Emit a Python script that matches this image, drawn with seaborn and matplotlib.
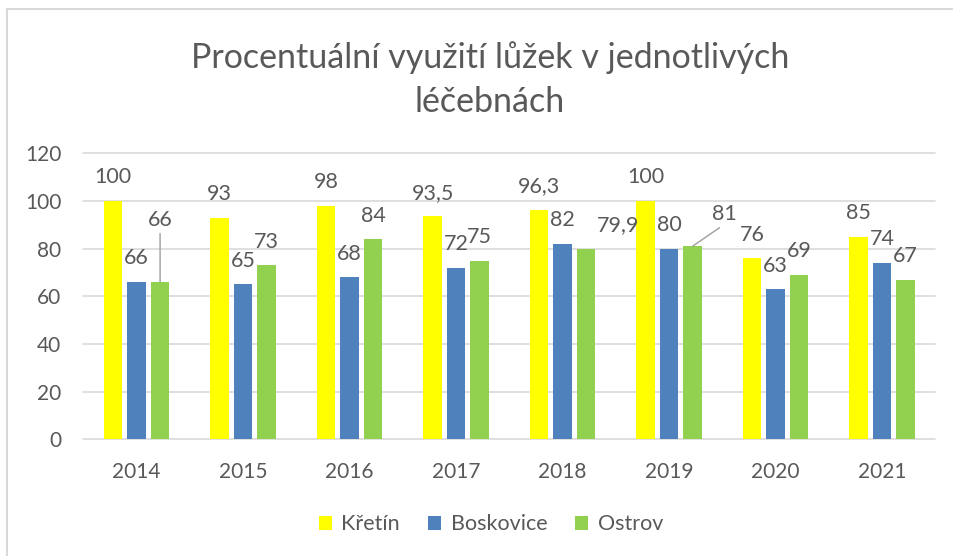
import matplotlib
matplotlib.use("Agg")
import matplotlib.pyplot as plt
import seaborn as sns
import pandas as pd
from matplotlib.lines import Line2D

# ---------------- data ----------------
years = ["2014", "2015", "2016", "2017", "2018", "2019", "2020", "2021"]
sites = ["Křetín", "Boskovice", "Ostrov"]
kretin = [100, 93, 98, 93.5, 96.3, 100, 76, 85]
boskovice = [66, 65, 68, 72, 82, 80, 63, 74]
ostrov = [66, 73, 84, 75, 79.9, 81, 69, 67]
y_ticks = [0, 20, 40, 60, 80, 100, 120]
title_lines = ["Procentuální využití lůžek v jednotlivých", "léčebnách"]

# ---------------- style ----------------
colors = {"Křetín": "#FFFF00", "Boskovice": "#4F81BD", "Ostrov": "#92D050"}
TEXT = "#595959"
GRID = "#D9D9D9"
LEADER = "#A6A6A6"
# label nudges in points: (dx, extra dy, leader line)
label_nudge = {
    ("2014", "Ostrov"): (0, 27.5, True),
    ("2018", "Ostrov"): (23, 0, False),
    ("2019", "Ostrov"): (22.8, 6, True),
}

sns.set_theme(style="white")
plt.rcParams["font.family"] = ["Lato", "DejaVu Sans"]

values = {"Křetín": kretin, "Boskovice": boskovice, "Ostrov": ostrov}
df = pd.DataFrame({
    "year": years * 3,
    "site": [s for s in sites for _ in years],
    "value": kretin + boskovice + ostrov,
})

W, H = 954, 556
fig = plt.figure(figsize=(W / 100, H / 100), dpi=100)
fig.patch.set_facecolor("white")
ax = fig.add_axes([83.4 / W, 1 - 439.3 / H, 852 / W, 286 / H])
ax.set_facecolor("white")

sns.barplot(data=df, x="year", y="value", hue="site", order=years,
            hue_order=sites, palette=colors, width=0.66, gap=0.21,
            saturation=1, errorbar=None, ax=ax, zorder=3, linewidth=0)

ax.set_xlim(-0.5, len(years) - 0.5)
ax.set_ylim(0, 120)
ax.set_yticks(y_ticks)
ax.grid(False)
for v in y_ticks:
    ax.axhline(v, color=GRID, lw=1.2, clip_on=False, zorder=1)
for sp in ax.spines.values():
    sp.set_visible(False)
ax.set_xlabel("")
ax.set_ylabel("")
ax.tick_params(axis="both", length=0, labelsize=15, labelcolor=TEXT)
ax.tick_params(axis="y", pad=16)
ax.tick_params(axis="x", pad=16)

def fmt(v):
    return f"{v:g}".replace(".", ",")

for cont, site in zip(ax.containers, sites):
    for bar, yr, val in zip(cont, years, values[site]):
        dx, dy, leader = label_nudge.get((yr, site), (0, 0, False))
        x = bar.get_x() + bar.get_width() / 2
        y = bar.get_height()
        kw = {}
        if leader:
            kw["arrowprops"] = dict(arrowstyle="-", color=LEADER, lw=1.1,
                                    shrinkA=0, shrinkB=0, relpos=(0.5, 0))
        ax.annotate(fmt(val), xy=(x, y), xytext=(dx, 12.6 + dy),
                    textcoords="offset points", ha="center", va="baseline",
                    fontsize=15.5, color=TEXT, zorder=4, **kw)

handles, labels = ax.get_legend_handles_labels()
if ax.get_legend() is not None:
    ax.get_legend().remove()
fig.legend(handles, labels, loc="center", bbox_to_anchor=(491 / W, 1 - 524.3 / H),
           ncol=3, frameon=False, fontsize=15.5, handlelength=0.6,
           handleheight=0.6, handletextpad=0.45, columnspacing=1.3,
           labelcolor=TEXT)

fig.text(490 / W, 1 - 67.7 / H, title_lines[0], ha="center", va="baseline",
         fontsize=24.5, color=TEXT)
fig.text(490 / W, 1 - 112 / H, title_lines[1], ha="center", va="baseline",
         fontsize=24.5, color=TEXT)

fig.add_artist(Line2D([7 / W, 7 / W], [0, 1 - 9 / H], transform=fig.transFigure,
                      color=GRID, lw=1.5))
fig.add_artist(Line2D([7 / W, 1], [1 - 9 / H, 1 - 9 / H], transform=fig.transFigure,
                      color=GRID, lw=1.5))

fig.savefig("out.png", dpi=100)
